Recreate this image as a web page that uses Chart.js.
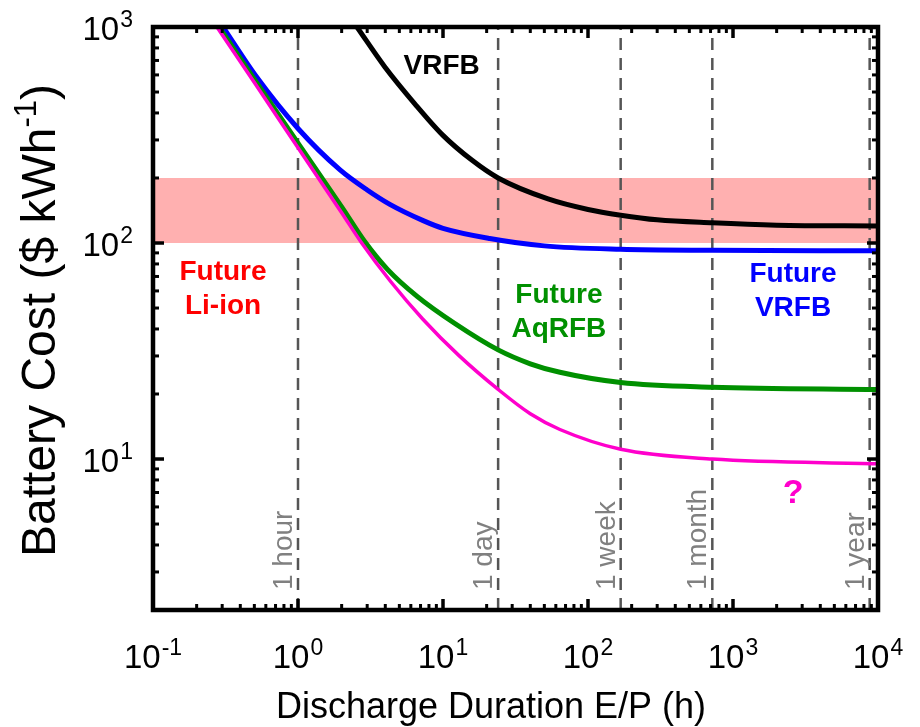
<!DOCTYPE html>
<html>
<head>
<meta charset="utf-8">
<script src="https://cdn.jsdelivr.net/npm/chart.js@4/dist/chart.umd.min.js"></script>
<style>
  html, body { margin: 0; padding: 0; background: #fff; }
</style>
</head>
<body>
<canvas id="cost-chart" width="920" height="727"></canvas>
<script>
// values (duration in h, cost in $/kWh)
const hoursVRFB = [2.55, 3.96, 6.41, 10, 15.8, 24, 53, 100, 168, 300, 720, 2000, 10000];
const costVRFB = [1000, 655, 440, 315, 242, 200, 160, 143, 134.5, 128, 124, 121, 120];

const hoursFutureVRFB = [0.304, 0.517, 1, 1.95, 3, 4.3, 7.3, 10, 21, 50, 168, 720, 10000];
const costFutureVRFB = [1000, 588, 339, 218, 176, 151, 127, 117, 105, 97, 93.5, 92.5, 92];

const hoursAqRFB = [0.285, 0.5, 1, 2, 2.9, 4.14, 6.63, 12, 24, 40, 64, 168, 720, 10000];
const costAqRFB = [1000, 572, 290, 147, 101, 75.5, 56.6, 42.5, 32, 27.6, 25.2, 22.6, 21.5, 21];

const hoursUnknown = [0.276, 0.5, 1, 2, 2.75, 4.34, 7.24, 12.9, 24, 40, 64, 168, 720, 10000];
const costUnknown = [1000, 553, 276, 138, 100, 66.5, 44.5, 30.1, 21, 16.2, 13.7, 11.1, 10, 9.5];

// shaded Li-ion target band
const bandLow = 100;
const bandHigh = 200;

// reference durations
const markerHours = [1, 24, 168, 720, 8760];
const markerLabels = ['1 hour', '1 day', '1 week', '1 month', '1 year'];

// axes
const xMin = 0.1, xMax = 10000;
const yMin = 2, yMax = 1000;
const xMajor = [0.1, 1, 10, 100, 1000, 10000];
const xExp = ['-1', '0', '1', '2', '3', '4'];
const yMajor = [10, 100, 1000];
const yExp = ['1', '2', '3'];
const minorSteps = [2, 3, 4, 5, 6, 7, 8, 9];

// text notes, anchored in data coordinates
const noteLines = [['VRFB'], ['Future', 'Li-ion'], ['Future', 'AqRFB'], ['Future', 'VRFB'], ['?']];
const noteAt = [[9.8, 660], [0.304, 61], [63, 48], [2594, 60], [2594, 6.9]];
const noteColors = ['#000000', '#ff0000', '#009000', '#0000ff', '#ff00cc'];

const FONT = '"Liberation Sans", Arial, Helvetica, sans-serif';

function pts(xs, ys) {
    return xs.map((v, i) => ({ x: v, y: ys[i] }));
}

function minorTicks(lo, hi) {
    const out = [];
    for (let d = 0.1; d < hi; d *= 10) {
        minorSteps.forEach(m => {
            const v = m * d;
            if (v >= lo && v < hi) out.push(v);
        });
    }
    return out;
}

const curve = (label, xs, ys, color, width, order) => ({
    label: label,
    data: pts(xs, ys),
    borderColor: color,
    borderWidth: width,
    pointRadius: 0,
    cubicInterpolationMode: 'monotone',
    fill: false,
    order: order
});

const datasets = [];

// band
datasets.push({
    label: 'band',
    data: pts([xMin, xMax], [bandHigh, bandHigh]),
    borderWidth: 0,
    pointRadius: 0,
    backgroundColor: '#ffb0b0',
    fill: { value: bandLow },
    order: 20
});

// dashed reference lines
markerHours.forEach((h, i) => {
    datasets.push({
        label: markerLabels[i],
        data: pts([h, h], [yMin, yMax]),
        borderColor: '#555555',
        borderWidth: 2.5,
        borderDash: [12, 8],
        pointRadius: 0,
        fill: false,
        order: 10
    });
});

datasets.push(curve('VRFB', hoursVRFB, costVRFB, '#000000', 5, 4));
datasets.push(curve('Future VRFB', hoursFutureVRFB, costFutureVRFB, '#0000ff', 5, 3));
datasets.push(curve('Future AqRFB', hoursAqRFB, costAqRFB, '#009000', 5, 2));
datasets.push(curve('?', hoursUnknown, costUnknown, '#ff00cc', 3.5, 1));


// axes box, inward ticks, tick labels, titles and notes
const decorate = {
    id: 'decorate',
    afterDatasetsDraw(chart) {
        const ctx = chart.ctx;
        const a = chart.chartArea;
        const x = chart.scales.x;
        const y = chart.scales.y;

        const seg = (x1, y1, x2, y2) => {
            ctx.beginPath();
            ctx.moveTo(x1, y1);
            ctx.lineTo(x2, y2);
            ctx.stroke();
        };

        ctx.save();

        // reference line labels
        ctx.fillStyle = '#808080';
        ctx.font = '28px ' + FONT;
        ctx.textAlign = 'left';
        ctx.textBaseline = 'alphabetic';
        markerHours.forEach((h, i) => {
            const px = x.getPixelForValue(h);
            ctx.save();
            ctx.translate(px - 6, a.bottom - 20);
            ctx.rotate(-Math.PI / 2);
            ctx.fillText(markerLabels[i], 0, 0);
            ctx.restore();
        });

        // notes
        ctx.textAlign = 'center';
        ctx.textBaseline = 'middle';
        noteLines.forEach((lines, i) => {
            const px = x.getPixelForValue(noteAt[i][0]);
            const py = y.getPixelForValue(noteAt[i][1]);
            ctx.fillStyle = noteColors[i];
            ctx.font = (lines[0] === '?' ? 'bold 34px ' : 'bold 28px ') + FONT;
            lines.forEach((t, k) => {
                ctx.fillText(t, px, py + (k - (lines.length - 1) / 2) * 34);
            });
        });

        // ticks
        ctx.strokeStyle = '#000';
        ctx.lineWidth = 3;
        minorTicks(xMin, xMax).forEach(v => {
            const px = x.getPixelForValue(v);
            seg(px, a.bottom, px, a.bottom - 6);
            seg(px, a.top, px, a.top + 6);
        });
        minorTicks(yMin, yMax).forEach(v => {
            const py = y.getPixelForValue(v);
            seg(a.left, py, a.left + 6, py);
            seg(a.right, py, a.right - 6, py);
        });
        ctx.lineWidth = 3.5;
        xMajor.forEach(v => {
            const px = x.getPixelForValue(v);
            seg(px, a.bottom, px, a.bottom - 11);
            seg(px, a.top, px, a.top + 11);
        });
        yMajor.forEach(v => {
            const py = y.getPixelForValue(v);
            seg(a.left, py, a.left + 11, py);
            seg(a.right, py, a.right - 11, py);
        });

        // box
        ctx.lineWidth = 4.5;
        ctx.strokeRect(a.left, a.top, a.right - a.left, a.bottom - a.top);

        // tick labels as 10^n
        ctx.fillStyle = '#000';
        ctx.textBaseline = 'alphabetic';
        ctx.textAlign = 'left';
        const big = '33px ' + FONT;
        const small = '23px ' + FONT;
        const widthOf = (exp) => {
            ctx.font = big;
            const w1 = ctx.measureText('10').width;
            ctx.font = small;
            return w1 + 1 + ctx.measureText(exp).width;
        };
        const power = (exp, left, base) => {
            ctx.font = big;
            ctx.fillText('10', left, base);
            const w1 = ctx.measureText('10').width;
            ctx.font = small;
            ctx.fillText(exp, left + w1 + 1, base - 13);
        };
        xMajor.forEach((v, i) => {
            const px = x.getPixelForValue(v);
            power(xExp[i], px - widthOf(xExp[i]) / 2, a.bottom + 58);
        });
        yMajor.forEach((v, i) => {
            const py = y.getPixelForValue(v);
            power(yExp[i], a.left - 20 - widthOf(yExp[i]), py + 13);
        });

        // axis titles
        ctx.font = '36px ' + FONT;
        ctx.textAlign = 'center';
        ctx.fillText('Discharge Duration E/P (h)', 491, 718);

        ctx.save();
        ctx.translate(55, (a.top + a.bottom) / 2 + 2);
        ctx.rotate(-Math.PI / 2);
        ctx.textAlign = 'left';
        const t1 = 'Battery Cost ($ kWh';
        const t2 = '-1';
        const t3 = ')';
        ctx.font = '48px ' + FONT;
        const w1 = ctx.measureText(t1).width;
        const w3 = ctx.measureText(t3).width;
        ctx.font = '31px ' + FONT;
        const w2 = ctx.measureText(t2).width;
        const start = -(w1 + w2 + w3) / 2;
        ctx.font = '48px ' + FONT;
        ctx.fillText(t1, start, 0);
        ctx.fillText(t3, start + w1 + w2, 0);
        ctx.font = '31px ' + FONT;
        ctx.fillText(t2, start + w1, -19);
        ctx.restore();

        ctx.restore();
    }
};

new Chart(document.getElementById('cost-chart').getContext('2d'), {
    type: 'line',
    data: { datasets: datasets },
    options: {
        responsive: false,
        animation: false,
        layout: { padding: { left: 153, top: 27, right: 42, bottom: 117 } },
        plugins: {
            legend: { display: false },
            tooltip: { enabled: false }
        },
        scales: {
            x: {
                type: 'logarithmic',
                min: xMin,
                max: xMax,
                grid: { display: false, drawTicks: false },
                border: { display: false },
                ticks: { display: false }
            },
            y: {
                type: 'logarithmic',
                min: yMin,
                max: yMax,
                grid: { display: false, drawTicks: false },
                border: { display: false },
                ticks: { display: false }
            }
        }
    },
    plugins: [decorate]
});
</script>
</body>
</html>
